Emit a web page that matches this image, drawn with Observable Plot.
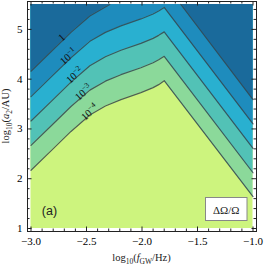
<!DOCTYPE html>
<html>
<head>
<meta charset="utf-8">
<script src="https://cdn.jsdelivr.net/npm/d3@7"></script>
<script src="https://cdn.jsdelivr.net/npm/@observablehq/plot@0.6"></script>
<style>
  html, body { margin: 0; padding: 0; background: white; }
</style>
</head>
<body>
<div id="chart"></div>
<script>
// ---- data ----
const xDomain = [-3, -1];
const yDomain = [1, 5.5];
const xMajor = [-3, -2.5, -2, -1.5, -1];
const xMinor = [-2.9, -2.8, -2.7, -2.6, -2.4, -2.3, -2.2, -2.1, -1.9, -1.8, -1.7, -1.6, -1.4, -1.3, -1.2, -1.1];
const yMajor = [1, 2, 3, 4, 5];
const yMinor = [1.2, 1.4, 1.6, 1.8, 2.2, 2.4, 2.6, 2.8, 3.2, 3.4, 3.6, 3.8, 4.2, 4.4, 4.6, 4.8, 5.2, 5.4];

// contour lines of ΔΩ/Ω (x = log10 f_GW, y = log10 a2)
const c1em4 = [[-3.0, 2.17], [-2.82, 2.56], [-2.64, 2.95], [-2.47, 3.28], [-2.33, 3.46], [-2.19, 3.59], [-2.01, 3.73], [-1.9, 3.83], [-1.85, 3.89], [-1.8, 3.97], [-1.0, 1.64]];
const c1em3 = [[-3.0, 2.67], [-2.82, 3.06], [-2.64, 3.45], [-2.47, 3.78], [-2.33, 3.96], [-2.19, 4.09], [-2.01, 4.23], [-1.9, 4.33], [-1.85, 4.39], [-1.8, 4.46], [-1.0, 2.12]];
const c1em2 = [[-3.0, 3.16], [-2.82, 3.55], [-2.64, 3.94], [-2.47, 4.27], [-2.33, 4.45], [-2.19, 4.58], [-2.01, 4.72], [-1.9, 4.82], [-1.85, 4.88], [-1.8, 4.95], [-1.0, 2.61]];
const c1em1 = [[-3.0, 3.65], [-2.82, 4.04], [-2.64, 4.43], [-2.47, 4.76], [-2.33, 4.94], [-2.19, 5.07], [-2.01, 5.21], [-1.9, 5.31], [-1.85, 5.37], [-1.8, 5.44], [-1.0, 3.10]];
const c1Left = [[-3.0, 4.16], [-2.82, 4.55], [-2.64, 4.94], [-2.47, 5.27], [-2.33, 5.45], [-2.29, 5.5]];
const c1Right = [[-1.65, 5.5], [-1.0, 3.59]];

const bandColors = ["#cdf47e", "#8bd99a", "#52c2b6", "#29b0d0", "#1e8cbd", "#1a6a9b"];
const labelBase = ["1", "10", "10", "10", "10"];
const labelExp = ["", "−1", "−2", "−3", "−4"];
const labelX = [-2.72, -2.66, -2.605, -2.525, -2.47];
const labelY = [4.83, 4.45, 4.07, 3.73, 3.33];

const bands = [
  {pts: c1em4, color: bandColors[1]},
  {pts: c1em3, color: bandColors[2]},
  {pts: c1em2, color: bandColors[3]},
  {pts: c1em1, color: bandColors[4]},
  {pts: c1Left, color: bandColors[5]},
  {pts: c1Right, color: bandColors[5]}
];

const W = 264, H = 266;
const mL = 27, mR = 8, mT = 1, mB = 35;
const fw = W - mL - mR, fh = H - mT - mB;
const lineColor = "#34474f";

const chart = Plot.plot({
  width: W, height: H,
  marginLeft: mL, marginRight: mR, marginTop: mT, marginBottom: mB,
  x: {domain: xDomain, inset: 3.5},
  y: {domain: yDomain, inset: 3},
  style: {fontFamily: "Liberation Serif", background: "white"},
  marks: [
    Plot.rect([0], {x1: xDomain[0], x2: xDomain[1], y1: yDomain[0], y2: yDomain[1], fill: bandColors[0]}),
    ...bands.map(b => Plot.areaY(b.pts, {x: d => d[0], y1: d => d[1], y2: yDomain[1], fill: b.color})),
    ...bands.map(b => Plot.line(b.pts, {x: d => d[0], y: d => d[1], stroke: lineColor, strokeWidth: 1.2, strokeOpacity: 0.85})),
    Plot.frame({stroke: "#222", strokeWidth: 1}),
    // inward ticks on all sides
    Plot.ruleX(xMajor, {x: d => d, insetTop: fh - 4.5, stroke: "#222"}),
    Plot.ruleX(xMinor, {x: d => d, insetTop: fh - 2.5, stroke: "#222"}),
    Plot.ruleX(xMajor, {x: d => d, insetBottom: fh - 4.5, stroke: "#222"}),
    Plot.ruleX(xMinor, {x: d => d, insetBottom: fh - 2.5, stroke: "#222"}),
    Plot.ruleY(yMajor, {y: d => d, insetRight: fw - 4.5, stroke: "#222"}),
    Plot.ruleY(yMinor, {y: d => d, insetRight: fw - 2.5, stroke: "#222"}),
    Plot.ruleY(yMajor, {y: d => d, insetLeft: fw - 4.5, stroke: "#222"}),
    Plot.ruleY(yMinor, {y: d => d, insetLeft: fw - 2.5, stroke: "#222"}),
    Plot.axisX({anchor: "bottom", ticks: xMajor, tickSize: 0, tickPadding: 6, tickFormat: d3.format(".1f"), fontSize: 11, label: null}),
    Plot.axisY({anchor: "left", ticks: yMajor, tickSize: 0, tickPadding: 5, tickFormat: d3.format("d"), fontSize: 11, label: null})
  ]
});

document.getElementById("chart").appendChild(chart);

const svg = d3.select(chart);
const sx = chart.scale("x"), sy = chart.scale("y");

// contour labels (rotated along the lines)
labelBase.forEach((b, i) => {
  const px = sx.apply(labelX[i]), py = sy.apply(labelY[i]);
  const t = svg.append("text")
    .attr("transform", `translate(${px},${py}) rotate(-42)`)
    .attr("text-anchor", "middle").attr("dy", "0.35em")
    .attr("font-family", "Liberation Serif").attr("font-size", 10.5).attr("fill", "#111");
  t.append("tspan").text(b);
  if (labelExp[i]) t.append("tspan").attr("font-size", 7.5).attr("dy", -4).text(labelExp[i]);
});

// x-axis label
const xl = svg.append("text").attr("x", mL + fw / 2).attr("y", 261)
  .attr("text-anchor", "middle").attr("font-family", "Liberation Serif").attr("font-size", 10.5).attr("fill", "#222");
xl.append("tspan").text("log");
xl.append("tspan").attr("font-size", 7.5).attr("dy", 2.5).text("10");
xl.append("tspan").attr("dy", -2.5).text("(");
xl.append("tspan").attr("font-style", "italic").text("f");
xl.append("tspan").attr("font-size", 7.5).attr("dy", 2.5).text("GW");
xl.append("tspan").attr("dy", -2.5).text("/Hz)");
// y-axis label
const yl = svg.append("text").attr("transform", `translate(9,${mT + fh / 2}) rotate(-90)`)
  .attr("text-anchor", "middle").attr("font-family", "Liberation Serif").attr("font-size", 10.5).attr("fill", "#222");
yl.append("tspan").text("log");
yl.append("tspan").attr("font-size", 7.5).attr("dy", 2.5).text("10");
yl.append("tspan").attr("dy", -2.5).text("(");
yl.append("tspan").attr("font-style", "italic").text("a");
yl.append("tspan").attr("font-size", 7.5).attr("dy", 2.5).text("2");
yl.append("tspan").attr("dy", -2.5).text("/AU)");
// panel tag
svg.append("text").attr("x", 49.5).attr("y", 214.5).attr("text-anchor", "middle")
  .attr("font-family", "Liberation Sans").attr("font-size", 12.5).attr("fill", "#222").text("(a)");
// legend box
svg.append("rect").attr("x", 205.5).attr("y", 197.5).attr("width", 41.5).attr("height", 23)
  .attr("fill", "white").attr("stroke", "#888").attr("stroke-width", 1);
svg.append("text").attr("x", 226.25).attr("y", 213.5).attr("text-anchor", "middle")
  .attr("font-family", "Liberation Serif").attr("font-size", 11).attr("fill", "#222").text("ΔΩ/Ω");
</script>
</body>
</html>
